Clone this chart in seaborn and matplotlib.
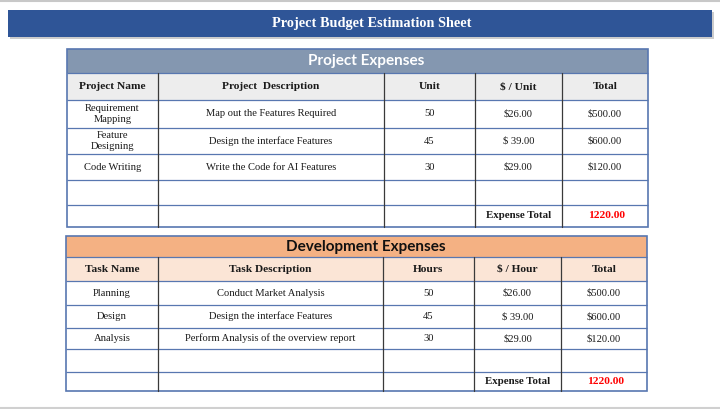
"""Project budget estimation sheet drawn as two styled tables."""

import matplotlib.pyplot as plt
import seaborn as sns
from matplotlib.patches import Rectangle

SHEET_TITLE = "Project Budget Estimation Sheet"

PROJECT_TITLE = "Project Expenses"
PROJECT_HEADERS = ["Project Name", "Project  Description", "Unit", "$ / Unit", "Total"]
PROJECT_NAMES = ["Requirement\nMapping", "Feature\nDesigning", "Code Writing"]
PROJECT_DESCRIPTIONS = [
    "Map out the Features Required",
    "Design the interface Features",
    "Write the Code for AI Features",
]
PROJECT_UNITS = [50, 45, 30]
PROJECT_UNIT_PRICES = ["$26.00", "$ 39.00", "$29.00"]
PROJECT_TOTALS = ["$500.00", "$600.00", "$120.00"]
PROJECT_EXPENSE_TOTAL = "1220.00"

DEV_TITLE = "Development Expenses"
DEV_HEADERS = ["Task Name", "Task Description", "Hours", "$ / Hour", "Total"]
DEV_TASKS = ["Planning", "Design", "Analysis"]
DEV_DESCRIPTIONS = [
    "Conduct Market Analysis",
    "Design the interface Features",
    "Perform Analysis of the overview report",
]
DEV_HOURS = [50, 45, 30]
DEV_HOUR_PRICES = ["$26.00", "$ 39.00", "$29.00"]
DEV_TOTALS = ["$500.00", "$600.00", "$120.00"]
DEV_EXPENSE_TOTAL = "1220.00"

BLUE_LINE = "#5877B0"
DARK_LINE = "#3A3A3A"
TEXT = "#1A1A1A"
SERIF = ["Liberation Serif", "DejaVu Serif"]
SANS = ["Lato", "DejaVu Sans"]


def draw_table(ax, col_edges, row_edges, title, title_color, title_text_color,
               header_color, headers, rows, total_label, total_value):
    left, right = col_edges[0], col_edges[-1]
    top = row_edges[0]
    bottom = row_edges[-1]

    # title band and header band
    ax.add_patch(Rectangle((left, row_edges[0]), right - left, row_edges[1] - row_edges[0],
                           facecolor=title_color, edgecolor="none"))
    ax.add_patch(Rectangle((left, row_edges[1]), right - left, row_edges[2] - row_edges[1],
                           facecolor=header_color, edgecolor="none"))
    ax.text((left + right) / 2 + 9, (row_edges[0] + row_edges[1]) / 2 + 0.5, title,
            ha="center", va="center", color=title_text_color, fontsize=11,
            fontweight="bold", family=SANS)

    # horizontal lines
    for y in row_edges[1:-1]:
        ax.plot([left, right], [y, y], color=BLUE_LINE, lw=0.9, solid_capstyle="butt")
    # vertical inner lines
    for x in col_edges[1:-1]:
        ax.plot([x, x], [row_edges[1], bottom], color=DARK_LINE, lw=0.9)
    # outer border
    ax.add_patch(Rectangle((left, top), right - left, bottom - top,
                           facecolor="none", edgecolor=BLUE_LINE, lw=1.2))

    centers = [(a + b) / 2 for a, b in zip(col_edges[:-1], col_edges[1:])]
    hy = (row_edges[1] + row_edges[2]) / 2
    for cx, label in zip(centers, headers):
        ax.text(cx, hy, label, ha="center", va="center", fontsize=8.2,
                fontweight="bold", family=SERIF, color=TEXT)

    for r, row in enumerate(rows):
        cy = (row_edges[r + 2] + row_edges[r + 3]) / 2
        for cx, value in zip(centers, row):
            ax.text(cx, cy, str(value), ha="center", va="center", fontsize=7.6,
                    family=SERIF, color=TEXT, linespacing=1.2)

    ty = (row_edges[-2] + row_edges[-1]) / 2
    ax.text(centers[3], ty, total_label, ha="center", va="center", fontsize=7.8,
            fontweight="bold", family=SERIF, color=TEXT)
    ax.text(centers[4] + 2, ty, total_value, ha="center", va="center", fontsize=8.2,
            fontweight="bold", family=SERIF, color="#FF0000")


def main() -> None:
    sns.set_theme(style="white")
    fig = plt.figure(figsize=(7.2, 4.09), dpi=100)
    ax = fig.add_axes([0, 0, 1, 1])
    ax.set_xlim(0, 720)
    ax.set_ylim(409, 0)
    ax.axis("off")

    # sheet frame lines
    ax.plot([0, 720], [1, 1], color="#C8C8C8", lw=1.5)
    ax.plot([0, 720], [407.5, 407.5], color="#D0D0D0", lw=1.5)

    # banner with shadow
    ax.add_patch(Rectangle((10, 12), 704, 27, facecolor="#9A9A9A", edgecolor="none", alpha=0.5))
    ax.add_patch(Rectangle((8, 10), 704, 27, facecolor="#2F5597", edgecolor="none"))
    ax.text(372, 23.5, SHEET_TITLE, ha="center", va="center", color="white",
            fontsize=10.3, fontweight="bold", family=SERIF)

    project_rows = [list(r) for r in zip(PROJECT_NAMES, PROJECT_DESCRIPTIONS, PROJECT_UNITS,
                                         PROJECT_UNIT_PRICES, PROJECT_TOTALS)]
    draw_table(ax, [67, 158, 384, 475, 562, 648],
               [49, 73, 100, 128, 154, 180, 205, 227],
               PROJECT_TITLE, "#8497B0", "white", "#EDEDED",
               PROJECT_HEADERS, project_rows, "Expense Total", PROJECT_EXPENSE_TOTAL)

    dev_rows = [list(r) for r in zip(DEV_TASKS, DEV_DESCRIPTIONS, DEV_HOURS,
                                     DEV_HOUR_PRICES, DEV_TOTALS)]
    draw_table(ax, [66, 158, 383, 474, 561, 647],
               [236, 257, 281, 305, 328, 349, 372, 391],
               DEV_TITLE, "#F4B183", "#111111", "#FBE5D6",
               DEV_HEADERS, dev_rows, "Expense Total", DEV_EXPENSE_TOTAL)

    fig.savefig("out.png", dpi=100, facecolor="white")
    plt.close(fig)


if __name__ == "__main__":
    main()
